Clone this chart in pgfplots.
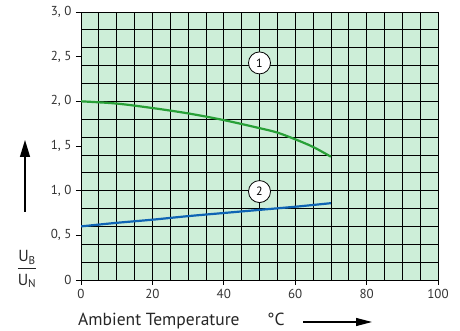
\documentclass[border=0pt]{standalone}
\usepackage{pgfplots}
\pgfplotsset{compat=1.18}
\usepackage{amsmath}
\usepackage{fontspec}
\setmainfont{PT Sans}
\usetikzlibrary{arrows.meta}
\definecolor{bg}{RGB}{205,238,216}
\definecolor{cgreen}{RGB}{40,160,55}
\definecolor{cblue}{RGB}{15,100,180}
\begin{document}
\begin{tikzpicture}[x=1pt,y=1pt]
\path[use as bounding box] (0,0) rectangle (460,331);
\begin{axis}[
  at={(81pt,51pt)}, anchor=south west,
  scale only axis, width=357pt, height=268pt,
  xmin=0, xmax=100, ymin=0, ymax=3,
  axis background/.style={fill=bg},
  xtick={0,20,...,100},
  ytick={0,0.5,1,1.5,2,2.5,3},
  yticklabels={0,{0, 5},{1, 0},{1, 5},{2, 0},{2, 5},{3, 0}},
  minor xtick={0,5,...,100},
  minor ytick={0,0.2,0.4,0.6,0.8,1.0,1.2,1.4,1.6,1.8,2.0,2.2,2.4,2.6,2.8,3.0},
  grid=minor,
  minor grid style={black, line width=0.8pt},
  minor tick length=0pt,
  major tick length=5pt,
  tick align=outside,
  xtick pos=bottom, ytick pos=left,
  axis line style={black, line width=0.8pt},
  tick style={black, line width=0.8pt},
  ticklabel style={font=\fontsize{13}{15}\selectfont, text=black!80},
  /pgf/number format/assume math mode=true,
  xticklabel style={yshift=-1pt},
  yticklabel style={xshift=-1pt},
]
\addplot[cgreen, line width=2.2pt, smooth, tension=0.5] coordinates {
 (0,2.0) (10,1.975) (20,1.925) (30,1.865) (40,1.79) (50,1.70) (55,1.65) (60,1.575) (65,1.49) (70,1.38)};
\addplot[cblue, line width=2.2pt, smooth, tension=0.5] coordinates {
 (0,0.60) (10,0.64) (20,0.675) (30,0.715) (40,0.75) (50,0.785) (60,0.82) (70,0.86)};
\node[circle, draw=black, line width=0.8pt, fill=white, minimum size=22pt, inner sep=0pt, font=\fontsize{12}{14}\selectfont] at (axis cs:50,2.43) {1};
\node[circle, draw=black, line width=0.8pt, fill=white, minimum size=22pt, inner sep=0pt, font=\fontsize{12}{14}\selectfont] at (axis cs:50,0.99) {2};
\end{axis}
\node[font=\fontsize{16}{18}\selectfont, text=black!85] at (27,62) {$\dfrac{\text{U}_{\text{B}}}{\text{U}_{\text{N}}}$};
\draw[line width=1.3pt, -{Triangle[width=10pt,length=17pt]}] (25,119) -- (25,191);
\node[anchor=base west, font=\fontsize{17.5}{20}\selectfont, inner sep=0pt, text=black!85] at (78,5.5) {Ambient Temperature};
\node[anchor=base west, font=\fontsize{17.5}{20}\selectfont, inner sep=0pt, text=black!85] at (267,5.5) {°C};
\draw[line width=1.1pt, -{Triangle[width=8pt,length=16pt]}] (303,9) -- (372,9);
\end{tikzpicture}
\end{document}
